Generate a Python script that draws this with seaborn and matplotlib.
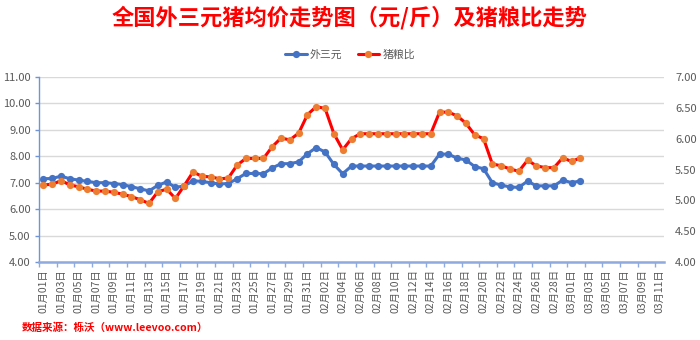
import numpy as np
import pandas as pd
import matplotlib
matplotlib.use("Agg")
import matplotlib.pyplot as plt
from matplotlib.ticker import FormatStrFormatter
import seaborn as sns

sns.set_theme(style="white")
plt.rcParams["font.family"] = ["Noto Sans CJK SC", "DejaVu Sans"]

# Category axis: every day from 1 Jan to 11 Mar 2024
dates = pd.date_range("2024-01-01", "2024-03-11", freq="D")
day_labels = [d.strftime("%m月%d日") for d in dates]

# 外三元 national average price (元/斤), left axis
price = [
    7.15, 7.16, 7.25, 7.15, 7.10, 7.05, 7.00, 7.00, 6.97, 6.93,
    6.85, 6.77, 6.69, 6.90, 7.03, 6.82, 6.88, 7.07, 7.05, 7.00,
    6.95, 6.97, 7.15, 7.35, 7.35, 7.34, 7.56, 7.72, 7.72, 7.79,
    8.10, 8.33, 8.16, 7.69, 7.34, 7.63, 7.63, 7.63, 7.63, 7.63,
    7.63, 7.63, 7.63, 7.63, 7.63, 8.08, 8.08, 7.93, 7.86, 7.61,
    7.53, 7.00, 6.91, 6.84, 6.82, 7.06, 6.88, 6.88, 6.88, 7.10,
    7.00, 7.07,
]

# 猪粮比 (hog-to-grain ratio), right axis
ratio = [
    5.25, 5.26, 5.32, 5.25, 5.22, 5.18, 5.15, 5.15, 5.13, 5.10,
    5.06, 5.01, 4.95, 5.14, 5.18, 5.03, 5.24, 5.46, 5.39, 5.38,
    5.35, 5.36, 5.57, 5.68, 5.68, 5.68, 5.87, 6.01, 5.98, 6.09,
    6.39, 6.52, 6.49, 6.08, 5.82, 6.00, 6.08, 6.08, 6.08, 6.08,
    6.08, 6.08, 6.08, 6.08, 6.08, 6.43, 6.43, 6.37, 6.25, 6.06,
    6.00, 5.59, 5.56, 5.51, 5.47, 5.65, 5.56, 5.53, 5.53, 5.69,
    5.63, 5.69,
]

left_ticks = [4, 5, 6, 7, 8, 9, 10, 11]
right_ticks = [4.0, 4.5, 5.0, 5.5, 6.0, 6.5, 7.0]

title = "全国外三元猪均价走势图（元/斤）及猪粮比走势"
source = "数据来源：栎沃（www.leevoo.com）"

df = pd.DataFrame({"day": np.arange(len(price)), "price": price, "ratio": ratio})

BLUE = "#4472C4"
RED = "#FF0000"
ORANGE = "#ED7D31"
GRID = "#D9D9D9"
TEXT = "#595959"

fig = plt.figure(figsize=(7, 3.4), dpi=100)
ax = fig.add_axes([39 / 700, 1 - 262 / 340, (664 - 39) / 700, (262 - 77) / 340])
ax2 = ax.twinx()

sns.lineplot(data=df, x="day", y="price", ax=ax, color=BLUE, lw=2.2,
             marker="o", markersize=5.2, markerfacecolor=BLUE,
             markeredgecolor=BLUE, markeredgewidth=0, label="外三元", legend=False)
sns.lineplot(data=df, x="day", y="ratio", ax=ax2, color=RED, lw=2.2,
             marker="o", markersize=5.2, markerfacecolor=ORANGE,
             markeredgecolor=ORANGE, markeredgewidth=0, label="猪粮比", legend=False)

# Category axis: labels on every other day, tick marks between categories
ax.set_xlim(-0.5, len(dates) - 0.5)
ax.set_xticks(np.arange(0, len(dates), 2))
ax.set_xticklabels(day_labels[::2], rotation=90, fontsize=7.5, color=TEXT)
ax.set_xticks(np.arange(-0.5, len(dates) - 1, 2), minor=True)
ax.tick_params(axis="x", which="major", length=0, pad=5)
ax.tick_params(axis="x", which="minor", length=3.5, width=1, color="#8FAADC",
               direction="out", bottom=True)

ax.set_ylim(4, 11)
ax.set_yticks(left_ticks)
ax.yaxis.set_major_formatter(FormatStrFormatter("%.2f"))
ax.tick_params(axis="y", length=3, width=1, color="#6F95D8", labelsize=8,
               labelcolor=TEXT, pad=3, left=True)
ax.yaxis.grid(True, color=GRID, lw=1)
ax.set_axisbelow(True)

ax2.set_ylim(4, 7)
ax2.set_yticks(right_ticks)
ax2.yaxis.set_major_formatter(FormatStrFormatter("%.2f"))
ax2.tick_params(axis="y", length=0, labelsize=8, labelcolor=TEXT, pad=8)
ax2.grid(False)

ax.set_xlabel("")
ax.set_ylabel("")
ax2.set_ylabel("")

for s in ["top", "right"]:
    ax.spines[s].set_visible(False)
for s in ax2.spines.values():
    s.set_visible(False)
ax.spines["left"].set_color("#6F95D8")
ax.spines["left"].set_linewidth(1)
ax.spines["bottom"].set_color("#8FAADC")
ax.spines["bottom"].set_linewidth(1.8)

h1, l1 = ax.get_legend_handles_labels()
h2, l2 = ax2.get_legend_handles_labels()
fig.legend(h1 + h2, l1 + l2, loc="center", bbox_to_anchor=(0.5, 1 - 55 / 340),
           ncol=2, frameon=False, fontsize=7.8, handlelength=2.0,
           columnspacing=1.4, handletextpad=0.3, labelcolor=TEXT)

fig.text(0.5, 1 - 18 / 340, title, ha="center", va="center", fontsize=16,
         fontweight="bold", color=RED)
fig.text(22 / 700, 1 - 328 / 340, source, ha="left", va="center", fontsize=7.6,
         fontweight="bold", color=RED)

fig.savefig("out.png", dpi=100)
